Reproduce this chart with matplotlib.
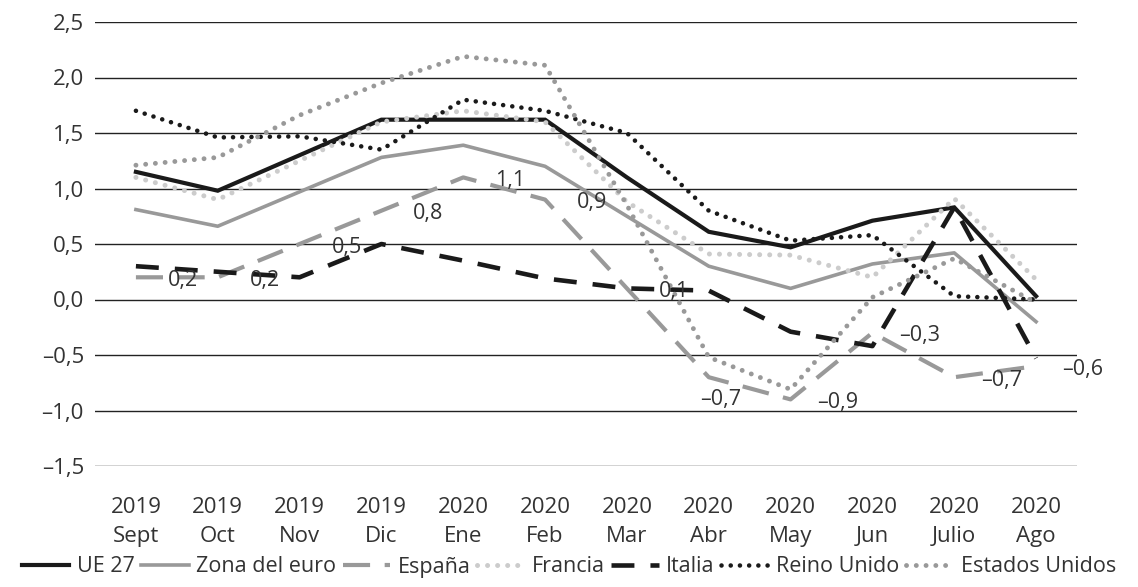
import matplotlib
matplotlib.use("Agg")
from matplotlib import pyplot as plt

# months on the x axis
years = ["2019"] * 4 + ["2020"] * 8
months = ["Sept", "Oct", "Nov", "Dic", "Ene", "Feb", "Mar", "Abr", "May", "Jun", "Julio", "Ago"]

ue27 = [1.15, 0.98, 1.30, 1.62, 1.62, 1.62, 1.10, 0.61, 0.47, 0.71, 0.83, 0.03]
zona_euro = [0.81, 0.66, 0.97, 1.28, 1.39, 1.20, 0.75, 0.30, 0.10, 0.32, 0.42, -0.20]
espana = [0.2, 0.2, 0.5, 0.8, 1.1, 0.9, 0.1, -0.7, -0.9, -0.3, -0.7, -0.6]
francia = [1.10, 0.90, 1.25, 1.60, 1.70, 1.60, 0.88, 0.41, 0.40, 0.20, 0.91, 0.18]
italia = [0.30, 0.25, 0.20, 0.50, 0.35, 0.19, 0.10, 0.08, -0.29, -0.42, 0.83, -0.53]
reino_unido = [1.70, 1.46, 1.47, 1.35, 1.80, 1.70, 1.50, 0.80, 0.53, 0.58, 0.03, 0.00]
estados_unidos = [1.21, 1.28, 1.66, 1.95, 2.19, 2.11, 0.85, -0.52, -0.81, 0.02, 0.37, -0.03]

yticks = [-1.5, -1.0, -0.5, 0.0, 0.5, 1.0, 1.5, 2.0, 2.5]


def fmt(v: float) -> str:
    # Spanish style: comma decimal, en dash for negatives
    s = f"{abs(v):.1f}".replace(".", ",")
    return ("\u2013" + s) if v < 0 else s


plt.rcParams["font.family"] = ["Open Sans", "DejaVu Sans"]
text_color = "#333333"

fig = plt.figure(figsize=(11.38, 5.87), dpi=100)
ax = fig.add_axes([95 / 1138, 1 - 466 / 587, (1077 - 95) / 1138, (466 - 22) / 587])

x = list(range(len(months)))
dot = (0, (0.01, 2.0))

ax.plot(x, ue27, color="#1a1a1a", lw=3.0, label="UE 27", solid_joinstyle="miter")
ax.plot(x, zona_euro, color="#999999", lw=2.6, label="Zona del euro")
ax.plot(x, espana, color="#999999", lw=3.0, dashes=(6.5, 3.5), label="España")
ax.plot(x, francia, color="#cccccc", lw=3.6, linestyle=dot, dash_capstyle="round", label="Francia")
ax.plot(x, italia, color="#1a1a1a", lw=3.3, dashes=(5, 3.5), label="Italia")
ax.plot(x, reino_unido, color="#1a1a1a", lw=3.3, linestyle=dot, dash_capstyle="round", label="Reino Unido")
ax.plot(x, estados_unidos, color="#999999", lw=3.5, linestyle=dot, dash_capstyle="round", label="Estados Unidos")

# data labels for España, mostly set to the right of each point
for i, v in enumerate(espana):
    dx, dy = 47, -3
    if months[i] == "Abr":
        dx, dy = 12, -22
    ax.annotate(fmt(v), (i, v), xytext=(dx, dy), textcoords="offset pixels",
                ha="center", va="center", fontsize=15.5, color=text_color)

ax.set_xlim(-0.5, len(months) - 0.5)
ax.set_ylim(-1.5, 2.5)
ax.set_yticks(yticks)
ax.set_yticklabels([fmt(v) for v in yticks])
ax.set_xticks(x)
ax.set_xticklabels([f"{y}\n{m}" for y, m in zip(years, months)], linespacing=1.5)
ax.tick_params(axis="both", length=0, labelsize=16, colors=text_color)
ax.tick_params(axis="x", pad=22)
ax.tick_params(axis="y", pad=8)
ax.grid(axis="y", color="#222222", lw=1.0)
ax.set_axisbelow(True)
for s in ax.spines.values():
    s.set_visible(False)

fig.legend(loc="center", bbox_to_anchor=(0.5, 1 - 567 / 587), ncol=7, frameon=False,
           fontsize=15.5, handlelength=2.2, handletextpad=0.35, columnspacing=0.3,
           labelcolor=text_color, borderaxespad=0)

fig.savefig("out.png", dpi=100)
